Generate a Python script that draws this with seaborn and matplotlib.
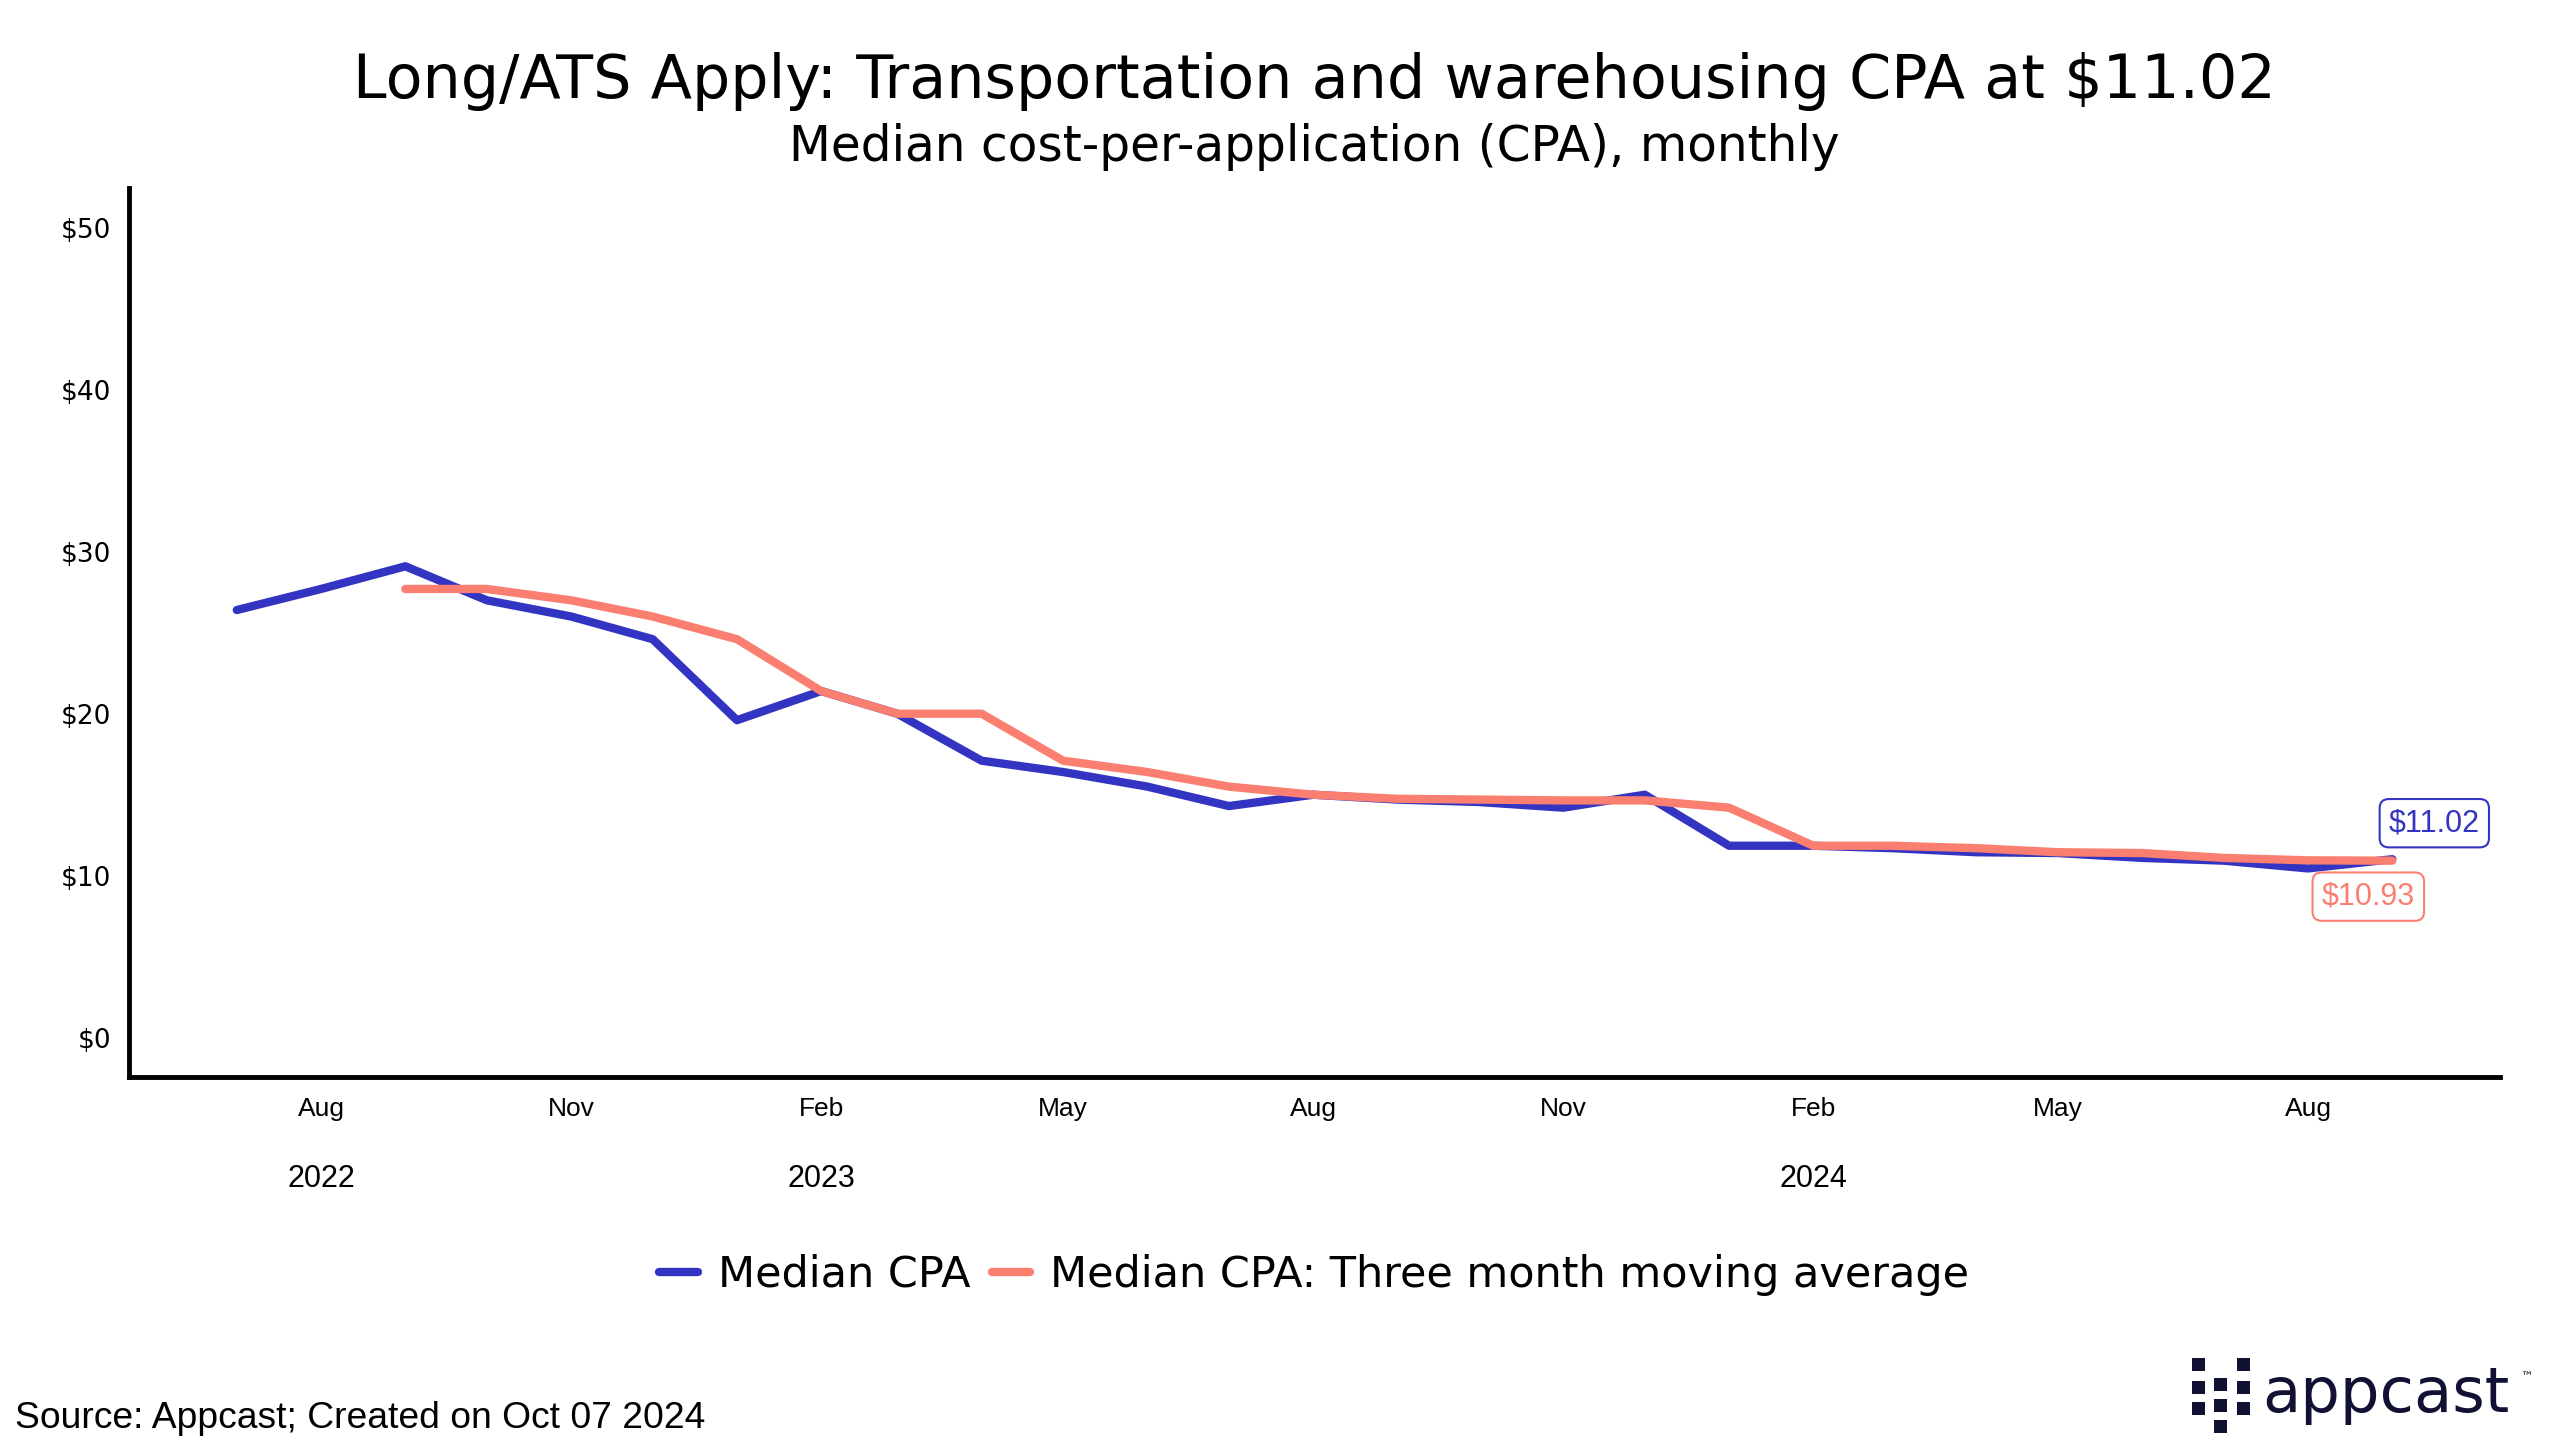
import numpy as np
import pandas as pd
import matplotlib
matplotlib.use("Agg")
import matplotlib.pyplot as plt
from matplotlib.patches import Rectangle
import seaborn as sns

# monthly values
months = pd.date_range("2022-07-01", "2024-09-01", freq="MS")
median_cpa = [26.4, 27.7, 29.1, 27.0, 26.0, 24.6, 19.6, 21.4, 20.0, 17.1,
              16.4, 15.5, 14.3, 15.0, 14.7, 14.55, 14.2, 15.0, 11.85, 11.85,
              11.7, 11.45, 11.4, 11.1, 10.93, 10.45, 11.02]
moving_avg = [np.nan, np.nan, 27.7, 27.7, 27.0, 26.0, 24.6, 21.4, 20.0, 20.0,
              17.1, 16.4, 15.5, 15.0, 14.75, 14.7, 14.65, 14.65, 14.2, 11.85,
              11.85, 11.7, 11.45, 11.4, 11.1, 10.95, 10.93]
series_names = ["Median CPA", "Median CPA: Three month moving average"]
colors = ["#3434C2", "#FA7F70"]
tick_months = pd.date_range("2022-08-01", "2024-08-01", freq="3MS")
year_ticks = {"2022-08-01": "2022", "2023-02-01": "2023", "2024-02-01": "2024"}

df = pd.concat([
    pd.DataFrame({"month": months, "cpa": median_cpa, "series": series_names[0]}),
    pd.DataFrame({"month": months, "cpa": moving_avg, "series": series_names[1]}),
]).dropna()

sns.set_style("white")
plt.rcParams["font.family"] = ["DejaVu Sans"]
plt.rcParams["text.color"] = "black"
plt.rcParams["xtick.color"] = "black"
plt.rcParams["ytick.color"] = "black"

fig = plt.figure(figsize=(25.6, 14.55), dpi=100)
ax = fig.add_axes([0.0504, 0.2595, 0.9262, 0.6113])

sns.lineplot(data=df, x="month", y="cpa", hue="series", hue_order=series_names,
             palette=colors, linewidth=6, ax=ax, legend=True)

span = months[-1] - months[0]
ax.set_xlim(months[0] - span * 0.05, months[-1] + span * 0.05)
ax.set_ylim(-2.45, 52.45)
ax.set_yticks([0, 10, 20, 30, 40, 50])
ax.set_yticklabels(["$0", "$10", "$20", "$30", "$40", "$50"], fontsize=19)
ax.set_xticks(tick_months)
ax.set_xticklabels([m.strftime("%b") for m in tick_months],
                   fontsize=19, family="Liberation Sans")
for d, yr in year_ticks.items():
    ax.annotate(yr, xy=(pd.Timestamp(d), 0), xycoords=("data", "axes fraction"),
                xytext=(0, -102), textcoords="offset pixels", ha="center",
                va="center", fontsize=22, family="Liberation Sans")
ax.set_xlabel("")
ax.set_ylabel("")
sns.despine(ax=ax)
for s in ["left", "bottom"]:
    ax.spines[s].set_linewidth(3.5)
    ax.spines[s].set_color("black")
ax.tick_params(axis="both", length=7, width=3, color="black", labelcolor="black", pad=6)
ax.tick_params(axis="x", pad=7)

# end labels
ax.annotate("$11.02", xy=(months[-1], median_cpa[-1]), xytext=(42, 36),
            textcoords="offset pixels", ha="center", va="center",
            color=colors[0], fontsize=22, family="Liberation Sans",
            bbox=dict(boxstyle="round,pad=0.3", fc="white", ec=colors[0], lw=1.5))
ax.annotate("$10.93", xy=(months[-1], moving_avg[-1]), xytext=(-24, -36),
            textcoords="offset pixels", ha="center", va="center",
            color=colors[1], fontsize=22, family="Liberation Sans",
            bbox=dict(boxstyle="round,pad=0.3", fc="white", ec=colors[1], lw=1.5))

cx = 0.5133
leg = ax.legend(loc="center", bbox_to_anchor=(cx, 0.124),
                bbox_transform=fig.transFigure, ncol=2, frameon=False,
                fontsize=31, handlelength=0.9, handletextpad=0.45,
                columnspacing=0.5)
for line in leg.get_lines():
    line.set_linewidth(6)
for t in leg.get_texts():
    t.set_color("black")

fig.text(cx, 0.944, "Long/ATS Apply: Transportation and warehousing CPA at $11.02",
         ha="center", va="center", fontsize=43.5, color="black")
fig.text(cx, 0.899, "Median cost-per-application (CPA), monthly",
         ha="center", va="center", fontsize=35, color="black")
fig.text(0.006, 0.025, "Source: Appcast; Created on Oct 07 2024",
         ha="left", va="center", fontsize=26.8, family="Liberation Sans",
         color="black")

# appcast logo
navy = "#111133"
fig.text(0.8836, 0.0296, "appcast", ha="left", va="baseline", fontsize=45,
         color=navy)
fig.text(0.9845, 0.053, "™", ha="left", va="center", fontsize=9, color=navy)
sq = 13
grid = [(2192, 1358), (2192, 1381), (2192, 1402),
        (2214, 1378), (2214, 1399), (2214, 1420),
        (2237, 1358), (2237, 1381), (2237, 1402)]
for px, py in grid:
    fig.add_artist(Rectangle((px / 2560, 1 - (py + sq) / 1455), sq / 2560, sq / 1455,
                             transform=fig.transFigure, color=navy, lw=0))

fig.savefig("out.png", dpi=100)
